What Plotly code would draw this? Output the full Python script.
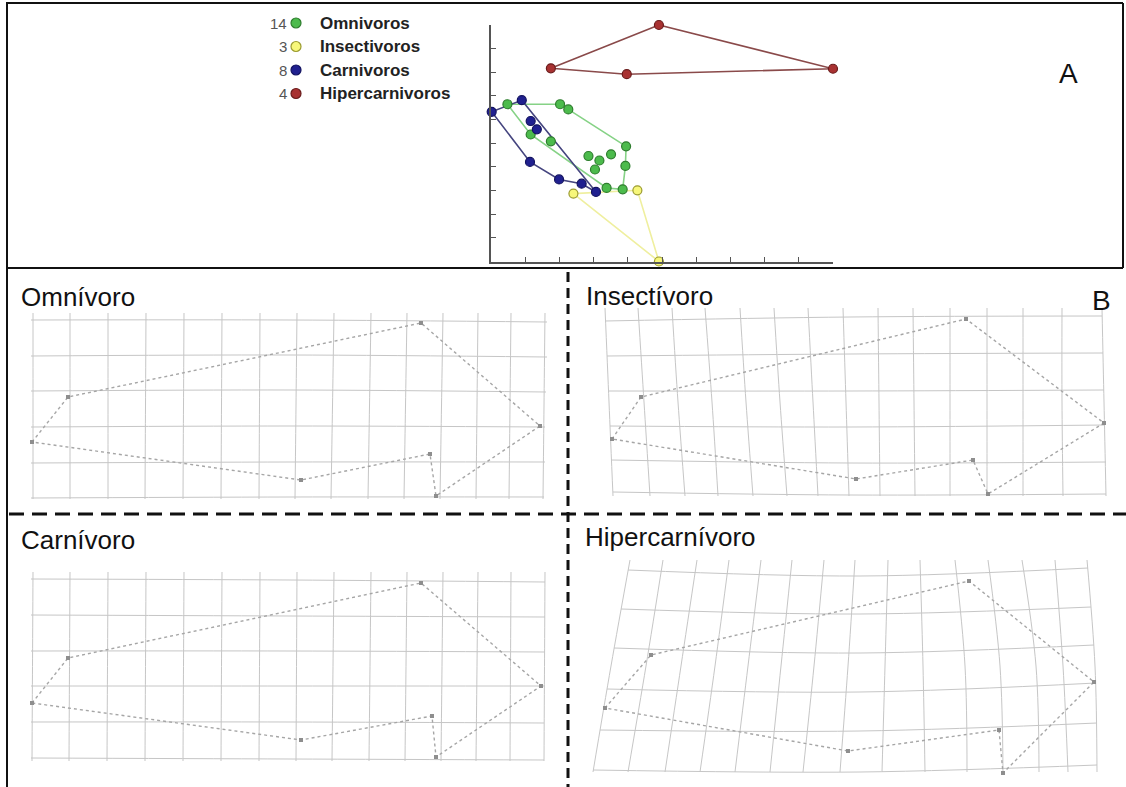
import plotly.graph_objects as go

W, H = 1126, 787
FONT = "Liberation Sans, Arial, sans-serif"

# ---------------- Panel A : scatter (morphospace) ----------------
groups = ["Omnivoros", "Insectivoros", "Carnivoros", "Hipercarnivoros"]
group_counts = ["14", "3", "8", "4"]

omn_x = [0.48, 2.02, 2.26, 1.16, 1.75, 3.95, 2.85, 3.17, 3.51, 3.04, 3.93, 3.38, 3.85]
omn_y = [6.65, 6.65, 6.43, 5.37, 5.08, 4.87, 4.46, 4.27, 4.53, 3.89, 4.04, 3.11, 3.05]
omn_hull = [0, 1, 2, 5, 10, 12, 11, 3, 0]

ins_x = [2.41, 4.28, 4.91]
ins_y = [2.87, 3.01, 0.0]
ins_hull = [0, 1, 2, 0]

car_x = [0.02, 0.90, 1.16, 1.34, 1.14, 1.99, 2.65, 3.07]
car_y = [6.33, 6.82, 5.94, 5.59, 4.21, 3.47, 3.29, 2.94]
car_hull = [0, 1, 7, 6, 5, 4, 0]

hip_x = [4.91, 1.75, 10.0, 3.97]
hip_y = [10.0, 8.17, 8.15, 7.92]
hip_hull = [1, 0, 2, 3, 1]

# ---------------- Panel B : deformation grids (image units) ----------------
# Omnivoro
omn_col_xt = [33, 70, 108, 146, 184, 222, 260, 297, 334, 371, 407, 443, 478, 511, 545]
omn_col_xm = [33, 70, 108, 145.5, 183.5, 221.5, 259.5, 296, 332.5, 369.5, 405.5, 441.5, 477, 510, 544]
omn_col_xb = [33, 70, 108, 145, 183, 221, 259, 295, 331, 368, 404, 440, 476, 509, 543]
omn_col_yt, omn_col_yb = 313, 499
omn_row_xl = [31, 31, 31, 31, 31, 31]
omn_row_xr = [547, 547, 546, 545, 545, 544]
omn_row_yl = [320, 356, 391, 427, 463, 498]
omn_row_ym = [320, 355, 390, 426, 462, 497]
omn_row_yr = [322, 357, 392, 427, 462, 497]
omn_row_xm = 290
omn_lm_x = [32, 68, 421, 540, 436, 430, 301]
omn_lm_y = [442, 397, 323, 426, 496, 454, 480]

# Insectivoro
ins_col_xt = [605, 638, 672, 705, 740, 774, 808, 843, 878, 913, 950, 987, 1023, 1062, 1102]
ins_col_xm = [609, 644, 678, 712, 746, 780, 813, 846, 879, 914, 950, 987, 1023, 1062, 1104]
ins_col_xb = [613, 650, 685, 718, 753, 787, 818, 849, 880, 915, 950, 987, 1023, 1063, 1106]
ins_col_yt, ins_col_yb = 308, 496
ins_row_xl = [605, 607, 608, 610, 611, 613]
ins_row_xr = [1102, 1103, 1104, 1105, 1106, 1106]
ins_row_yl = [321, 356, 391, 426, 460, 492]
ins_row_ym = [317, 354, 391, 427, 463, 495]
ins_row_yr = [316, 353, 390, 425, 462, 494]
ins_row_xm = 850
ins_lm_x = [612, 641, 966, 1104, 988, 973, 856]
ins_lm_y = [439, 397, 319, 423, 494, 460, 479]

# Carnivoro
car_col_xt = [33, 70, 108, 146, 184, 222, 260, 297, 334, 371, 407, 443, 478, 511, 545]
car_col_xm = [32.5, 69.5, 107.5, 145.5, 183.5, 221.5, 259.5, 296.5, 333, 370, 406, 442, 477, 510.5, 544.5]
car_col_xb = [32, 69, 107, 145, 183, 221, 259, 296, 332, 369, 405, 441, 476, 510, 544]
car_col_yt, car_col_yb = 572, 761
car_row_xl = [31, 31, 31, 31, 31, 31]
car_row_xr = [545, 545, 545, 545, 544, 544]
car_row_yl = [579, 615, 651, 686, 722, 758]
car_row_ym = [580, 616, 651, 686, 722, 759]
car_row_yr = [582, 617, 652, 686, 723, 760]
car_row_xm = 290
car_lm_x = [32, 68, 421, 541, 436, 432, 301]
car_lm_y = [703, 658, 583, 686, 757, 716, 740]

# Hipercarnivoro
hip_col_xt = [630, 663, 697, 729, 761, 792, 824, 855, 888, 920, 955, 988, 1022, 1055, 1087]
hip_col_xm = [611, 646, 681, 715, 748, 781, 814, 848, 885, 923, 965, 1000, 1036, 1063, 1095]
hip_col_xb = [593, 628, 665, 700, 735, 770, 803, 840, 882, 925, 967, 1003, 1039, 1068, 1097]
hip_col_yt, hip_col_yb = 560, 772
hip_row_xl = [628, 621, 614, 607, 600, 593]
hip_row_xr = [1088, 1091, 1094, 1096, 1097, 1097]
hip_row_yl = [570, 609, 648, 689, 730, 770]
hip_row_ym = [576, 614, 653, 692, 731, 772]
hip_row_yr = [568, 607, 645, 683, 723, 765]
hip_row_xm = 860
hip_lm_x = [605, 651, 969, 1094, 1003, 999, 848]
hip_lm_y = [708, 655, 581, 682, 773, 730, 751]

outline_order = [0, 1, 2, 3, 4, 5, 6, 0]

panel_titles = ["Omnívoro", "Insectívoro", "Carnívoro", "Hipercarnívoro"]

# ---------------- helpers ----------------
def pxx(x):
    return x / W

def pxy(y):
    return 1 - y / H

fig = go.Figure()

styles = {
    "Omnivoros": dict(fill="#4cbb4c", edge="#2e7d2e", hull="#86d286"),
    "Insectivoros": dict(fill="#f7f77a", edge="#9b9b30", hull="#efef9f"),
    "Carnivoros": dict(fill="#20208f", edge="#131360", hull="#45457f"),
    "Hipercarnivoros": dict(fill="#a83232", edge="#6a1c1c", hull="#8a4a4a"),
}
data_a = {
    "Omnivoros": (omn_x, omn_y, omn_hull),
    "Insectivoros": (ins_x, ins_y, ins_hull),
    "Carnivoros": (car_x, car_y, car_hull),
    "Hipercarnivoros": (hip_x, hip_y, hip_hull),
}

# hulls
for g in ["Insectivoros", "Omnivoros", "Carnivoros", "Hipercarnivoros"]:
    xs, ys, hull = data_a[g]
    fig.add_trace(go.Scatter(
        x=[xs[i] for i in hull], y=[ys[i] for i in hull], mode="lines",
        line=dict(color=styles[g]["hull"], width=1.6), showlegend=False,
        hoverinfo="skip", cliponaxis=False, xaxis="x", yaxis="y"))
# points
for g in groups:
    xs, ys, hull = data_a[g]
    fig.add_trace(go.Scatter(
        x=xs, y=ys, mode="markers", name=g, showlegend=False,
        marker=dict(size=9, color=styles[g]["fill"],
                    line=dict(color=styles[g]["edge"], width=1.2)),
        cliponaxis=False, xaxis="x", yaxis="y"))

# hand-placed legend (layout positions)
legend_rows_y = [23, 46.5, 70, 93.5]
legend_dot_x = 296
fig.add_trace(go.Scatter(
    x=[legend_dot_x] * len(groups), y=legend_rows_y, mode="markers", showlegend=False,
    marker=dict(size=10, color=[styles[g]["fill"] for g in groups],
                line=dict(color=[styles[g]["edge"] for g in groups], width=1.2)),
    hoverinfo="skip", cliponaxis=False, xaxis="x2", yaxis="y2"))

# grids
panels = [
    (omn_col_xt, omn_col_xm, omn_col_xb, omn_col_yt, omn_col_yb,
     omn_row_xl, omn_row_xr, omn_row_yl, omn_row_ym, omn_row_yr, omn_row_xm, omn_lm_x, omn_lm_y),
    (ins_col_xt, ins_col_xm, ins_col_xb, ins_col_yt, ins_col_yb,
     ins_row_xl, ins_row_xr, ins_row_yl, ins_row_ym, ins_row_yr, ins_row_xm, ins_lm_x, ins_lm_y),
    (car_col_xt, car_col_xm, car_col_xb, car_col_yt, car_col_yb,
     car_row_xl, car_row_xr, car_row_yl, car_row_ym, car_row_yr, car_row_xm, car_lm_x, car_lm_y),
    (hip_col_xt, hip_col_xm, hip_col_xb, hip_col_yt, hip_col_yb,
     hip_row_xl, hip_row_xr, hip_row_yl, hip_row_ym, hip_row_yr, hip_row_xm, hip_lm_x, hip_lm_y),
]
for (cxt, cxm, cxb, cyt, cyb, rxl, rxr, ryl, rym, ryr, rxm, lx, ly) in panels:
    gx, gy = [], []
    for i in range(len(cxt)):
        gx += [cxt[i], cxm[i], cxb[i], None]
        gy += [cyt, (cyt + cyb) / 2, cyb, None]
    for j in range(len(ryl)):
        gx += [rxl[j], rxm, rxr[j], None]
        gy += [ryl[j], rym[j], ryr[j], None]
    fig.add_trace(go.Scatter(x=gx, y=gy, mode="lines",
                             line=dict(color="#c6c6c6", width=1, shape="spline"),
                             showlegend=False, hoverinfo="skip", xaxis="x2", yaxis="y2"))
    fig.add_trace(go.Scatter(x=[lx[i] for i in outline_order], y=[ly[i] for i in outline_order],
                             mode="lines", line=dict(color="#a6a6a6", width=1.4, dash="dot"),
                             showlegend=False, hoverinfo="skip", xaxis="x2", yaxis="y2"))
    fig.add_trace(go.Scatter(x=lx, y=ly, mode="markers",
                             marker=dict(size=4, color="#8e8e8e", symbol="square"),
                             showlegend=False, hoverinfo="skip", xaxis="x2", yaxis="y2"))

ax_common = dict(showgrid=False, zeroline=False, showline=True, linecolor="#555",
                 linewidth=1.5, ticks="inside", ticklen=5, tickwidth=1.2, tickcolor="#555",
                 tick0=0, dtick=1, showticklabels=False, range=[0, 10], fixedrange=True)

shapes = []
line_k = dict(color="#111", width=2)
shapes.append(dict(type="line", xref="paper", yref="paper", x0=pxx(7), x1=pxx(7), y0=pxy(2), y1=pxy(787), line=line_k))
shapes.append(dict(type="line", xref="paper", yref="paper", x0=pxx(7), x1=pxx(1123), y0=pxy(3), y1=pxy(3), line=line_k))
shapes.append(dict(type="line", xref="paper", yref="paper", x0=pxx(1123), x1=pxx(1123), y0=pxy(3), y1=pxy(268), line=line_k))
shapes.append(dict(type="line", xref="paper", yref="paper", x0=pxx(7), x1=pxx(1123), y0=pxy(268), y1=pxy(268), line=line_k))
shapes.append(dict(type="line", xref="paper", yref="paper", x0=pxx(568), x1=pxx(568), y0=pxy(272), y1=pxy(787),
                   line=dict(color="#111", width=3, dash="10px,6px")))
shapes.append(dict(type="line", xref="paper", yref="paper", x0=pxx(9), x1=pxx(1126), y0=pxy(514), y1=pxy(514),
                   line=dict(color="#111", width=3, dash="15px,8px")))

annotations = []
for n, g, yy in zip(group_counts, groups, legend_rows_y):
    annotations.append(dict(text=n, x=pxx(289), y=pxy(yy), xref="paper", yref="paper",
                            xanchor="right", yanchor="middle", showarrow=False,
                            font=dict(family=FONT, size=15, color="#555")))
    annotations.append(dict(text=g, x=pxx(318), y=pxy(yy), xref="paper", yref="paper",
                            xanchor="left", yanchor="middle", showarrow=False,
                            font=dict(family=FONT, size=17, color="#222", weight="bold")))
title_pos = [(19, 297), (584, 296), (19, 540), (583, 537)]
for t, (tx, ty) in zip(panel_titles, title_pos):
    annotations.append(dict(text=t, x=pxx(tx), y=pxy(ty), xref="paper", yref="paper",
                            xanchor="left", yanchor="middle", showarrow=False,
                            font=dict(family=FONT, size=26, color="#111")))
annotations.append(dict(text="A", x=pxx(1068), y=pxy(74), xref="paper", yref="paper",
                        xanchor="center", yanchor="middle", showarrow=False,
                        font=dict(family=FONT, size=28, color="#111")))
annotations.append(dict(text="B", x=pxx(1101), y=pxy(300), xref="paper", yref="paper",
                        xanchor="center", yanchor="middle", showarrow=False,
                        font=dict(family=FONT, size=28, color="#111")))

fig.update_layout(
    width=W, height=H, autosize=False,
    margin=dict(l=0, r=0, t=0, b=0, pad=0),
    paper_bgcolor="white", plot_bgcolor="rgba(0,0,0,0)",
    xaxis=dict(domain=[pxx(491), pxx(833)], anchor="y", **ax_common),
    yaxis=dict(domain=[pxy(261.5), pxy(25)], anchor="x", **ax_common),
    xaxis2=dict(domain=[0, 1], range=[0, W], visible=False, anchor="y2", fixedrange=True),
    yaxis2=dict(domain=[0, 1], range=[H, 0], visible=False, anchor="x2", fixedrange=True),
    showlegend=False,
    shapes=shapes, annotations=annotations,
)

fig.write_html("out.html")
